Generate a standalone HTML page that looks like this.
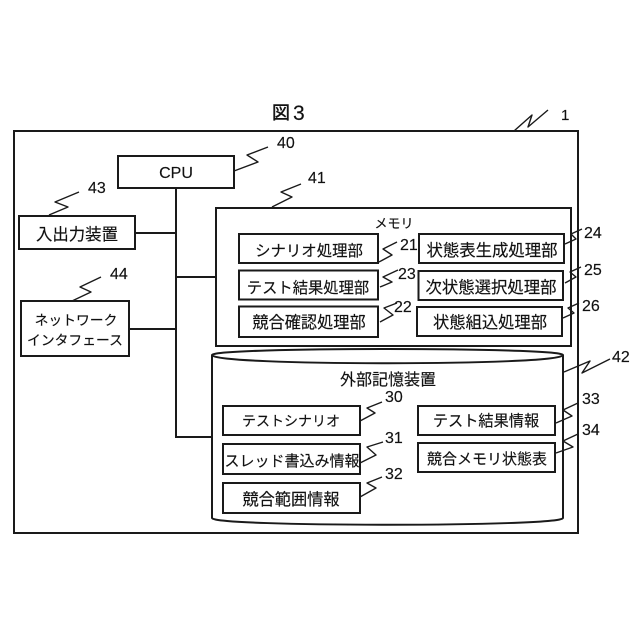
<!DOCTYPE html>
<html>
<head>
<meta charset="utf-8">
<style>
html,body{margin:0;padding:0;background:#fff}
svg{display:block}
text{font-family:"Liberation Sans","Noto Sans CJK JP",sans-serif;fill:#111;stroke:#111;stroke-width:0.15}
.b{fill:#fff;stroke:#1a1a1a;stroke-width:2}
.l{fill:none;stroke:#1a1a1a;stroke-width:2}
.s{fill:none;stroke:#1a1a1a;stroke-width:1.4;stroke-linejoin:round}
.t{text-anchor:middle}
.n{font-size:16px}
</style>
</head>
<body>
<svg width="640" height="640" viewBox="0 0 640 640" xmlns="http://www.w3.org/2000/svg">
<rect width="640" height="640" fill="#fff"/>
<text x="272" y="119" style="font-size:18px;stroke-width:0.5">図</text>
<text x="293" y="120" style="font-size:21px">3</text>
<rect class="b" x="14" y="131" width="564" height="402"/>

<path class="l" d="M176 188V437H212M135 233H176M129 329H176M176 277H216"/>

<rect class="b" x="118" y="156" width="116" height="32"/>
<text class="t" x="176" y="178" style="font-size:16px">CPU</text>
<rect class="b" x="19" y="216" width="116" height="33"/>
<text class="t" x="77" y="240" style="font-size:16.4px">入出力装置</text>
<rect class="b" x="21" y="301" width="108" height="55"/>
<text class="t" x="76" y="325" style="font-size:13.8px">ネットワーク</text>
<text class="t" x="75" y="345" style="font-size:13.8px">インタフェース</text>

<rect class="b" x="216" y="208" width="355" height="138"/>
<text class="t" x="394" y="228" style="font-size:13px">メモリ</text>
<rect class="b" x="239" y="234" width="139" height="29"/>
<text class="t" x="309" y="256" style="font-size:15.4px">シナリオ処理部</text>
<rect class="b" x="239" y="270.5" width="139" height="29"/>
<text class="t" x="308" y="293" style="font-size:15.3px">テスト結果処理部</text>
<rect class="b" x="239" y="306.5" width="139" height="30.5"/>
<text class="t" x="309" y="328" style="font-size:16.2px">競合確認処理部</text>
<rect class="b" x="419" y="234" width="145" height="29"/>
<text class="t" x="492" y="256" style="font-size:16.4px">状態表生成処理部</text>
<rect class="b" x="418.5" y="271" width="144.5" height="29"/>
<text class="t" x="491" y="293" style="font-size:16.4px">次状態選択処理部</text>
<rect class="b" x="417" y="307" width="145" height="29"/>
<text class="t" x="490" y="328" style="font-size:16.3px">状態組込処理部</text>

<path class="b" d="M212 355C212 347 563 347 563 355V518C563 527 212 527 212 518Z"/>
<path class="l" d="M212 355C212 366 563 366 563 355"/>
<text class="t" x="388" y="385" style="font-size:16px">外部記憶装置</text>
<rect class="b" x="223" y="406" width="137" height="29"/>
<text class="t" x="291" y="426" style="font-size:14px">テストシナリオ</text>
<rect class="b" x="223" y="444" width="137" height="30"/>
<text class="t" x="292" y="466" style="font-size:15px">スレッド書込み情報</text>
<rect class="b" x="223" y="483" width="137" height="30"/>
<text class="t" x="291" y="505" style="font-size:16.2px">競合範囲情報</text>
<rect class="b" x="418" y="406" width="137" height="29"/>
<text class="t" x="486" y="426" style="font-size:15.2px">テスト結果情報</text>
<rect class="b" x="418" y="443" width="137" height="29"/>
<text class="t" x="487" y="464" style="font-size:15px">競合メモリ状態表</text>

<path class="s" d="M514 131L532 115L528 127L548 110"/>
<path class="s" d="M234 171L258 162L247 155L268 147"/>
<path class="s" d="M49 215L68 207L55 202L79 192"/>
<path class="s" d="M72 301L91 292L80 287L101 277"/>
<path class="s" d="M272 207L292 197L281 192L301 184"/>
<path class="s" d="M379 262L392 255L383 249L397 242"/>
<path class="s" d="M380 287L392 282L383 277L398 270"/>
<path class="s" d="M380 322L393 315L384 308L397 303"/>
<path class="s" d="M565 244L576 239L571 234L582 229"/>
<path class="s" d="M565 283L576 277L570 272L581 267"/>
<path class="s" d="M563 318L574 313L568 308L579 303"/>
<path class="s" d="M360 421L375 413L367 408L382 402"/>
<path class="s" d="M360 463L376 455L367 447L383 442"/>
<path class="s" d="M360 497L376 488L367 483L382 477"/>
<path class="s" d="M564 372L590 361L582 373L610 359"/>
<path class="s" d="M556 423L572 416L563 410L578 403"/>
<path class="s" d="M556 453L573 447L563 441L578 434"/>

<text class="n" x="277" y="148">40</text>
<text class="n" x="88" y="193">43</text>
<text class="n" x="110" y="279">44</text>
<text class="n" x="308" y="183">41</text>
<text class="n" x="561" y="120" style="font-size:15px">1</text>
<text class="n" x="400" y="250">21</text>
<text class="n" x="398" y="279">23</text>
<text class="n" x="394" y="312">22</text>
<text class="n" x="584" y="238">24</text>
<text class="n" x="584" y="275">25</text>
<text class="n" x="582" y="311">26</text>
<text class="n" x="385" y="402">30</text>
<text class="n" x="385" y="443">31</text>
<text class="n" x="385" y="479">32</text>
<text class="n" x="612" y="362">42</text>
<text class="n" x="582" y="404">33</text>
<text class="n" x="582" y="435">34</text>
</svg>
</body>
</html>
